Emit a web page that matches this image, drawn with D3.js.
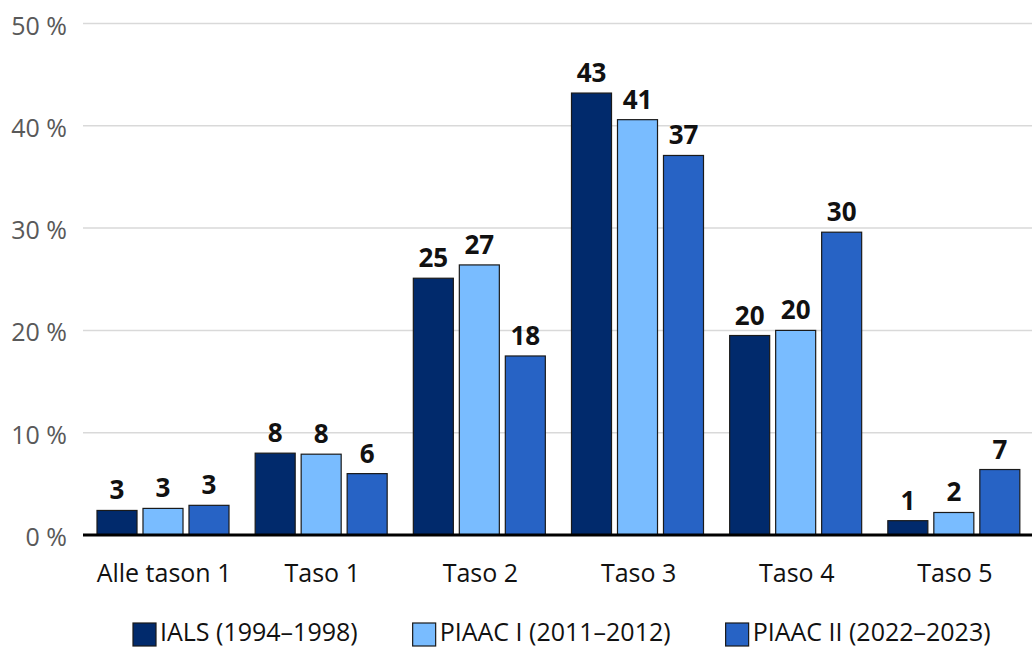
<!DOCTYPE html>
<html>
<head>
<meta charset="utf-8">
<script src="https://cdn.jsdelivr.net/npm/d3@7"></script>
<style>
  html, body { margin: 0; padding: 0; background: #fff; }
  svg { display: block; font-family: "Open Sans", "Noto Sans", sans-serif; }
</style>
</head>
<body>
<svg id="chart" width="1032" height="649"></svg>
<script>
const categories = ["Alle tason 1", "Taso 1", "Taso 2", "Taso 3", "Taso 4", "Taso 5"];
const seriesNames = ["IALS (1994–1998)", "PIAAC I (2011–2012)", "PIAAC II (2022–2023)"];
const ials    = [2.4, 8.0, 25.1, 43.2, 19.5, 1.4];
const piaac1  = [2.6, 7.9, 26.4, 40.6, 20.0, 2.2];
const piaac2  = [2.9, 6.0, 17.5, 37.1, 29.6, 6.4];
const labelsIals   = ["3", "8", "25", "43", "20", "1"];
const labelsPiaac1 = ["3", "8", "27", "41", "20", "2"];
const labelsPiaac2 = ["3", "6", "18", "37", "30", "7"];
const yTicks = [0, 10, 20, 30, 40, 50];
const colors = ["#012a6c", "#79bcff", "#2763c5"];

const values = [ials, piaac1, piaac2];
const labels = [labelsIals, labelsPiaac1, labelsPiaac2];

const svg = d3.select("#chart");
const plotLeft = 83, plotRight = 1032, plotTop = 23.5, plotBottom = 535;

const y = d3.scaleLinear().domain([0, 50]).range([plotBottom, plotTop]);
const x0 = d3.scaleBand().domain(categories).range([plotLeft, plotRight]).padding(0);
const x1 = d3.scaleBand().domain(d3.range(3)).range([14, 146]).paddingInner(0.13).paddingOuter(0);

// gridlines
svg.append("g").selectAll("line").data(yTicks.filter(t => t > 0)).join("line")
  .attr("x1", plotLeft).attr("x2", plotRight)
  .attr("y1", d => y(d)).attr("y2", d => y(d))
  .attr("stroke", "#d9d9d9").attr("stroke-width", 1.5);

// y tick labels
svg.append("g").selectAll("text").data(yTicks).join("text")
  .attr("x", 67).attr("y", d => y(d) + 1)
  .attr("text-anchor", "end").attr("dominant-baseline", "central")
  .attr("font-size", 25).attr("fill", "#595959")
  .text(d => d + " %");

// bars
const groups = svg.append("g").selectAll("g").data(categories).join("g")
  .attr("transform", c => `translate(${x0(c)},0)`);

groups.each(function(c, ci) {
  const g = d3.select(this);
  for (let s = 0; s < 3; s++) {
    const v = values[s][ci];
    g.append("rect")
      .attr("x", x1(s)).attr("width", x1.bandwidth())
      .attr("y", y(v)).attr("height", plotBottom - y(v))
      .attr("fill", colors[s]).attr("stroke", "#1a1a1a").attr("stroke-width", 1.2);
    g.append("text")
      .attr("x", x1(s) + x1.bandwidth() / 2).attr("y", y(v) - 11)
      .attr("text-anchor", "middle").attr("font-size", 26).attr("font-weight", "bold")
      .attr("fill", "#111")
      .text(labels[s][ci]);
  }
});

// zero axis line
svg.append("line").attr("x1", plotLeft).attr("x2", plotRight)
  .attr("y1", y(0)).attr("y2", y(0))
  .attr("stroke", "#000").attr("stroke-width", 3);

// category labels
svg.append("g").selectAll("text").data(categories).join("text")
  .attr("x", c => x0(c) + x0.bandwidth() / 2 + 2).attr("y", 582)
  .attr("text-anchor", "middle").attr("font-size", 25).attr("fill", "#111")
  .text(c => c);

// legend
const legend = svg.append("g");
let lx = 133;
seriesNames.forEach((name, i) => {
  legend.append("rect").attr("x", lx).attr("y", 623).attr("width", 23).attr("height", 23)
    .attr("fill", colors[i]).attr("stroke", "#1a1a1a").attr("stroke-width", 1.2);
  const t = legend.append("text").attr("x", lx + 27).attr("y", 641)
    .attr("font-size", 25).attr("fill", "#111").text(name);
  const w = t.node().getComputedTextLength();
  lx = lx + 27 + w + 55;
});
</script>
</body>
</html>
